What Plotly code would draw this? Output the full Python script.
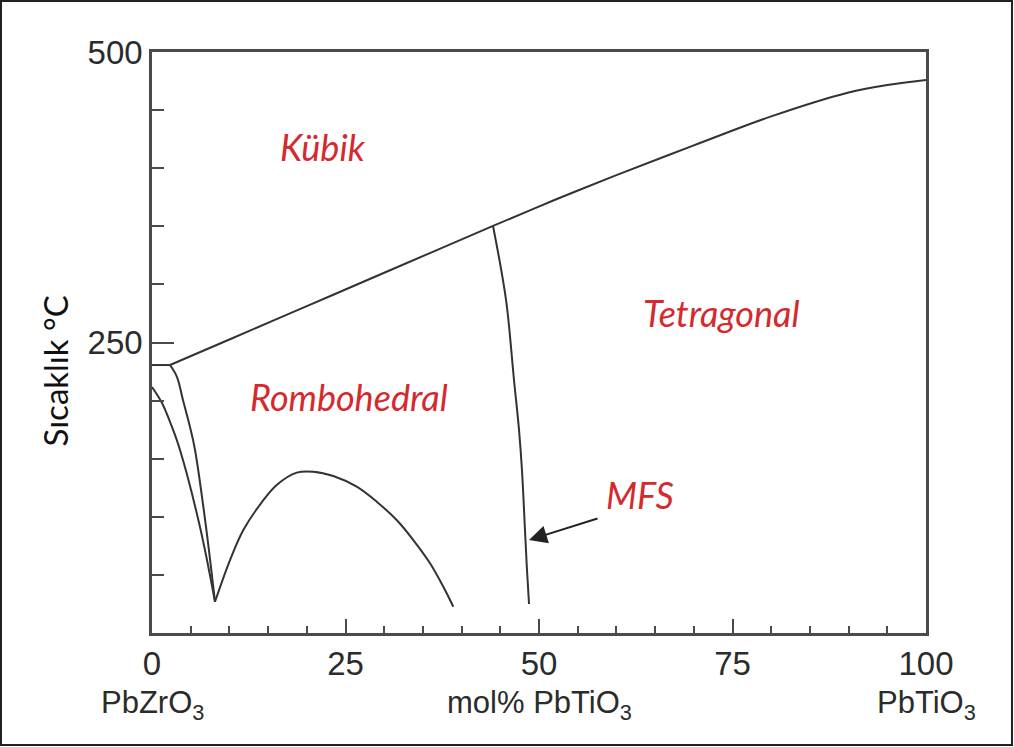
import plotly.graph_objects as go

# Phase boundaries of the PbZrO3-PbTiO3 system (x: mol% PbTiO3, y: temperature in °C)
cubic_flat_x = [0.0, 2.33]
cubic_flat_y = [230.6, 230.6]

cubic_x = [2.33, 10, 20, 30, 44.06, 52, 60, 70, 80, 90, 95, 100]
cubic_y = [230.6, 252.6, 281.3, 310.0, 350.3, 372.6, 394.0, 419.6, 444.6, 465.2, 471.6, 475.9]

afe_left_x = [0.0, 1.29, 2.58, 3.62, 6.2, 8.14]
afe_left_y = [211.7, 197.9, 177.3, 157.5, 91.2, 26.9]

afe_right_x = [2.33, 3.23, 4.0, 4.91, 5.56, 6.98, 8.14]
afe_right_y = [230.6, 220.3, 200.5, 177.3, 157.5, 91.2, 26.9]

dome_x = [8.14, 10.08, 11.80, 14.08, 16.11, 18.70, 20.84, 23.42, 26.45, 29.03, 31.61, 33.76, 35.92, 37.64, 38.93]
dome_y = [26.9, 62.8, 88.6, 111.6, 127.4, 138.0, 138.8, 135.1, 125.9, 113.0, 97.2, 80.0, 60.0, 39.8, 22.6]

mpb_x = [44.06, 45.74, 46.77, 47.42, 47.80, 48.19, 48.45, 48.71]
mpb_y = [350.3, 286.6, 217.7, 174.7, 140.3, 88.6, 54.2, 25.0]

x_ticks = [0, 25, 50, 75, 100]
y_ticks = [250, 500]

phase_labels = ["Kübik", "Tetragonal", "Rombohedral", "MFS"]
phase_x = [22.1, 73.6, 25.45, 63.05]
phase_y = [418.2, 275.4, 203.1, 118.8]

mfs_arrow_tail = (57.75, 99.0)
mfs_arrow_head = (48.71, 80.0)

bottom_names = ["PbZrO<sub>3</sub>", "mol% PbTiO<sub>3</sub>", "PbTiO<sub>3</sub>"]
bottom_name_x = [0, 50, 100]

LINE = "#333333"
AXIS = "#4a4a4a"
RED = "#d42a2e"
TEXT = "#2b2b2b"

fig = go.Figure()
curves = [
    (cubic_flat_x, cubic_flat_y, "linear"),
    (cubic_x, cubic_y, "spline"),
    (afe_left_x, afe_left_y, "spline"),
    (afe_right_x, afe_right_y, "spline"),
    (dome_x, dome_y, "spline"),
    (mpb_x, mpb_y, "spline"),
]
for xs, ys, shape in curves:
    fig.add_trace(go.Scatter(x=xs, y=ys, mode="lines",
                             line=dict(color=LINE, width=2, shape=shape),
                             hoverinfo="skip", showlegend=False))

for text, x, y in zip(phase_labels, phase_x, phase_y):
    fig.add_annotation(x=x, y=y, text=f"<i>{text}</i>", showarrow=False,
                       font=dict(family="Lato", size=36, color=RED))

fig.add_annotation(x=mfs_arrow_head[0], y=mfs_arrow_head[1],
                   ax=mfs_arrow_tail[0], ay=mfs_arrow_tail[1],
                   axref="x", ayref="y", xref="x", yref="y",
                   text="", showarrow=True, arrowhead=2, arrowsize=1.8,
                   arrowwidth=2, arrowcolor="#222222")

for text, x in zip(bottom_names, bottom_name_x):
    fig.add_annotation(x=x, y=-0.124, xref="x", yref="paper", text=text,
                       showarrow=False, xanchor="center", yanchor="middle",
                       font=dict(family="Liberation Sans", size=31, color=TEXT))

fig.add_annotation(x=-0.1253, y=0.45, xref="paper", yref="paper",
                   text="Sıcaklık °C", textangle=-90, showarrow=False,
                   xanchor="center", yanchor="middle",
                   font=dict(family="Lato", size=33, color="#111111"))

# outer frame around the whole figure
fig.add_shape(type="rect", xref="paper", yref="paper",
              x0=-0.1951, x1=1.1111, y0=-0.1928, y1=1.0878,
              line=dict(color="#222222", width=2))

axis_common = dict(showline=True, linecolor=AXIS, linewidth=2.5, mirror=True,
                   showgrid=False, zeroline=False, ticks="inside",
                   tickcolor=AXIS, tickwidth=2,
                   tickfont=dict(family="Liberation Sans", size=33, color=TEXT))

fig.update_xaxes(range=[0, 100], tickmode="array", tickvals=x_ticks, ticklen=14,
                 minor=dict(tickmode="linear", tick0=0, dtick=5, ticks="inside",
                            ticklen=7, tickwidth=2, tickcolor=AXIS),
                 **axis_common)
fig.update_yaxes(range=[0, 500], tickmode="array", tickvals=y_ticks, ticklen=22,
                 minor=dict(tickmode="linear", tick0=0, dtick=50, ticks="inside",
                            ticklen=12, tickwidth=2, tickcolor=AXIS),
                 **axis_common)

fig.update_layout(width=1014, height=747,
                  margin=dict(l=152, r=88, t=52, b=114),
                  plot_bgcolor="white", paper_bgcolor="white",
                  showlegend=False)

fig.write_html("out.html")
